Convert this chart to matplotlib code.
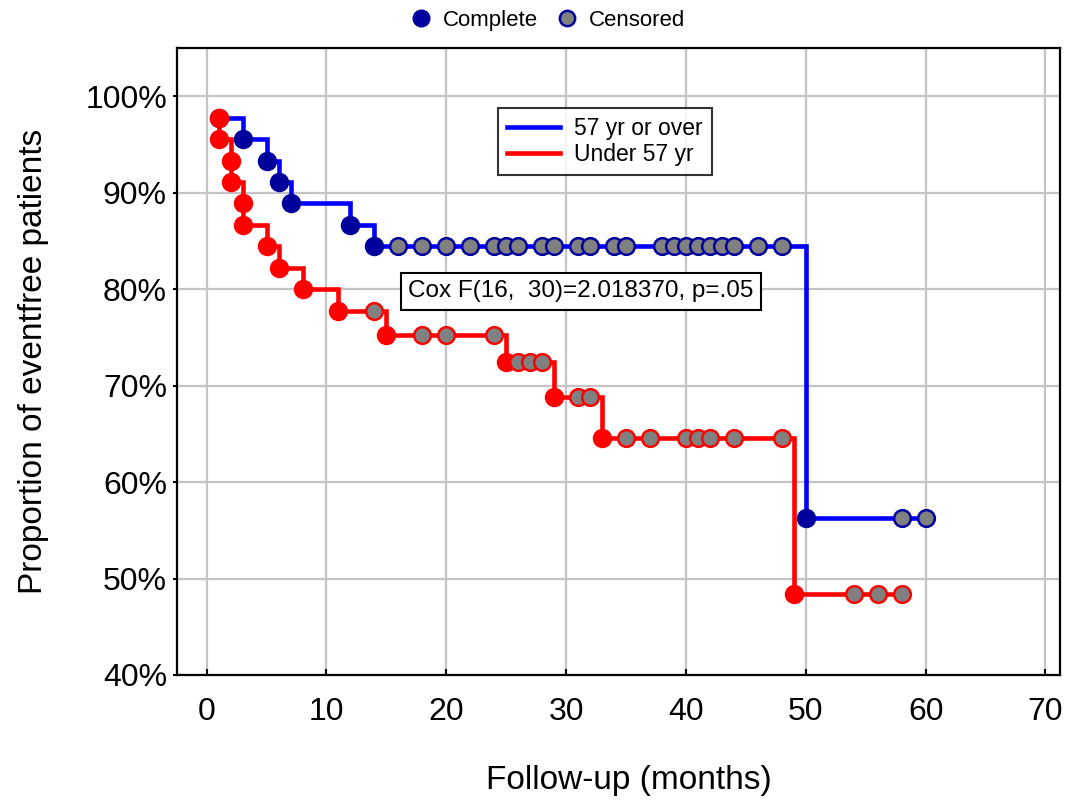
import matplotlib
matplotlib.use('Agg')
import matplotlib.pyplot as plt
from matplotlib.lines import Line2D
from matplotlib.ticker import FuncFormatter

plt.rcParams['font.family'] = ['Liberation Sans', 'DejaVu Sans']

# 57 yr or over: event times and survival (%) after each event
old_times = [1, 3, 5, 6, 7, 12, 14, 50]
old_surv = [97.78, 95.56, 93.33, 91.11, 88.89, 86.67, 84.44, 56.30]
old_cens_t = [16, 18, 20, 22, 24, 25, 26, 28, 29, 31, 32, 34, 35,
              38, 39, 40, 41, 42, 43, 44, 46, 48, 58, 60]
old_cens_s = [84.44] * 22 + [56.30] * 2

# Under 57 yr
young_times = [1, 1, 2, 2, 3, 3, 5, 6, 8, 11, 15, 25, 29, 33, 49]
young_surv = [97.78, 95.56, 93.33, 91.11, 88.89, 86.67, 84.44, 82.22,
              80.00, 77.78, 75.27, 72.48, 68.86, 64.55, 48.41]
young_cens_t = [14, 18, 20, 24, 26, 27, 28, 31, 32,
                35, 37, 40, 41, 42, 44, 48, 54, 56, 58]
young_cens_s = ([77.78] + [75.27] * 3 + [72.48] * 3 + [68.86] * 2
                + [64.55] * 7 + [48.41] * 3)

x_ticks = [0, 10, 20, 30, 40, 50, 60, 70]
y_ticks = [40, 50, 60, 70, 80, 90, 100]

NAVY = '#00009c'
GREY = '#808080'

fig = plt.figure(figsize=(10.76, 8.11), dpi=100)
ax = fig.add_axes([0.1642, 0.1677, 0.8208, 0.7731])

series = [
    (old_times, old_surv, old_cens_t, old_cens_s, '#0000ff', NAVY, NAVY, '57 yr or over'),
    (young_times, young_surv, young_cens_t, young_cens_s, '#ff0000', '#ff0000', '#ff0000', 'Under 57 yr'),
]
for times, surv, ct, cs, lc, mc, ec, lbl in series:
    last_t = max(times + ct)
    ax.step(times + [last_t], surv + [surv[-1]], where='post', color=lc,
            lw=3.3, label=lbl, zorder=3, solid_joinstyle='miter')
    ax.plot(times, surv, 'o', color=mc, ms=13, mec=mc, zorder=4)
    ax.plot(ct, cs, 'o', mfc=GREY, mec=ec, mew=1.8, ms=12, zorder=4)

ax.set_xlim(-2.5, 71.2)
ax.set_ylim(40, 105)
ax.set_xticks(x_ticks)
ax.set_yticks(y_ticks)
ax.yaxis.set_major_formatter(FuncFormatter(lambda v, p: f'{v:.0f}%'))
ax.grid(True, color='#c4c4c4', lw=1.6)
ax.set_axisbelow(True)
for s in ax.spines.values():
    s.set_linewidth(1.6)
ax.tick_params(axis='x', direction='in', length=4, width=1.5, labelsize=23, pad=16)
ax.tick_params(axis='y', direction='out', length=3, width=1.5, labelsize=23, pad=4)

ax.set_xlabel('Follow-up (months)', fontsize=24, labelpad=27, x=0.512)
ax.set_ylabel('Proportion of eventfree patients', fontsize=24, labelpad=26)

leg = ax.legend(loc='upper left', bbox_to_anchor=(0.364, 0.905), fontsize=16.5,
                frameon=True, fancybox=False, handlelength=2.3, borderpad=0.4,
                labelspacing=0.15, handletextpad=0.6, borderaxespad=0)
leg.get_frame().set_edgecolor('black')
leg.get_frame().set_linewidth(1.5)

ax.text(0.262, 0.612, 'Cox F(16,  30)=2.018370, p=.05', transform=ax.transAxes,
        fontsize=17.5, va='center', ha='left', zorder=6,
        bbox=dict(boxstyle='square,pad=0.3', fc='white', ec='black', lw=1.5))

handles = [Line2D([], [], ls='none', marker='o', ms=12, color=NAVY),
           Line2D([], [], ls='none', marker='o', ms=11, mfc=GREY, mec=NAVY, mew=1.8)]
fig.legend(handles, ['Complete', 'Censored'], loc='center', bbox_to_anchor=(0.51, 0.975),
           ncol=2, frameon=False, fontsize=16, handlelength=0.8, handletextpad=0.6,
           columnspacing=0.9)

fig.savefig('out.png', dpi=100)
